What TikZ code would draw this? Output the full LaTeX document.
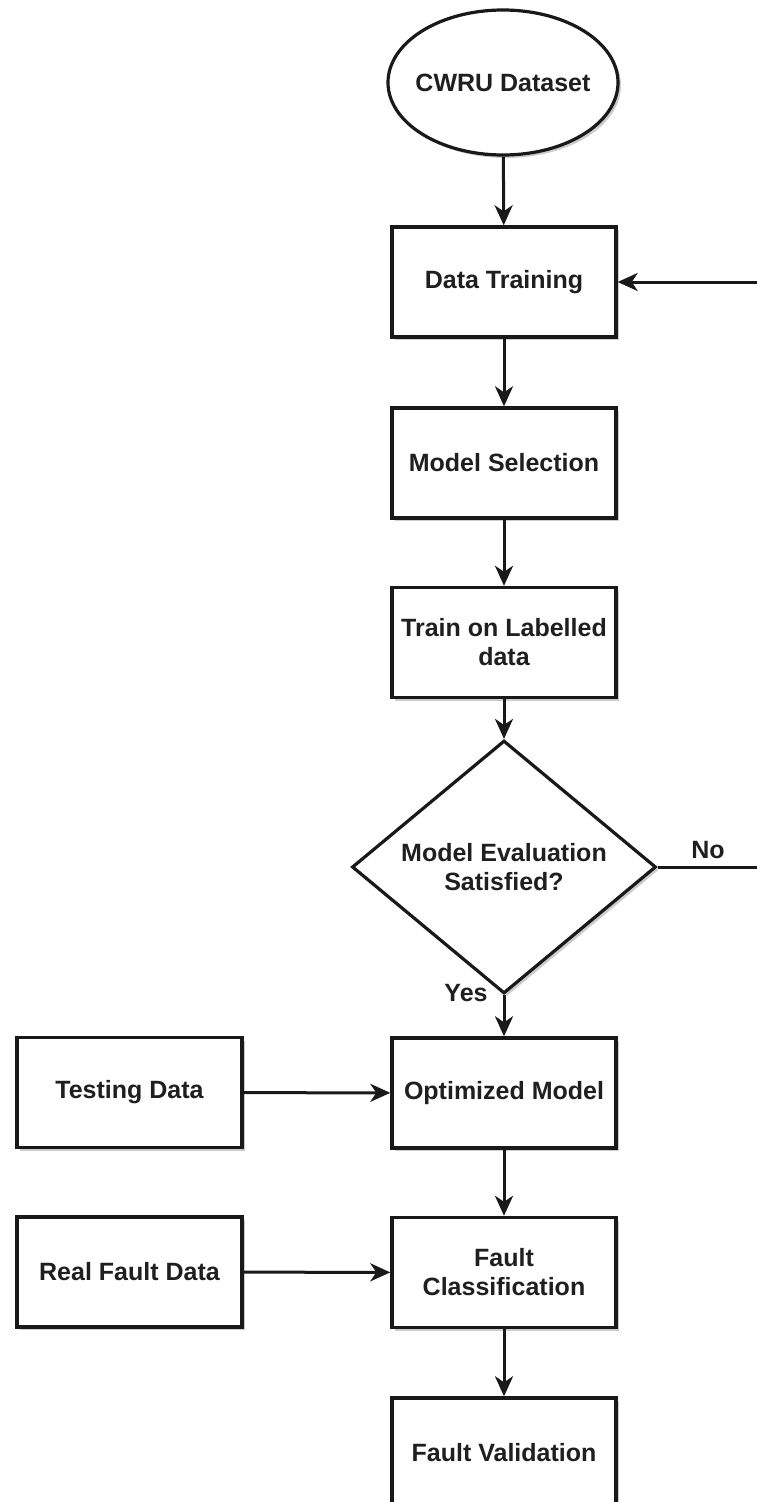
\documentclass[tikz,border=0pt]{standalone}
\usepackage{fontspec}
\setmainfont{Liberation Sans}
\usetikzlibrary{shapes.geometric,arrows.meta,shadows}
\begin{document}
\begin{tikzpicture}[x=1pt,y=-1pt,
  every node/.style={font=\fontsize{25}{29}\selectfont\bfseries, text=black!88},
  softshadow/.style={drop shadow={shadow xshift=3pt, shadow yshift=-3pt, fill=black, opacity=.2}},
  stepbox/.style={draw=black!90, line width=3.4pt, fill=white, minimum width=224pt,
    minimum height=110pt, inner sep=0pt, align=center, softshadow},
  startnode/.style={ellipse, draw=black!90, line width=3.2pt, fill=white,
    minimum width=230pt, minimum height=145pt, inner xsep=-20pt, inner ysep=0pt, softshadow},
  decision/.style={diamond, draw=black!90, line width=3.2pt, fill=white,
    minimum width=304pt, minimum height=198pt, inner sep=0pt, align=center, softshadow},
  flow/.style={draw=black!90, line width=3pt,
    -{Stealth[length=20pt, width=18pt, inset=6pt]}},
  tag/.style={inner sep=0pt}
]
\useasboundingbox (0,0) rectangle (757,1502);
\clip (0,0) rectangle (757,1502);

% main column
\node[startnode] (cwru)  at (503,82.5) {CWRU Dataset};
\node[stepbox]   (train) at (504,282)  {Data Training};
\node[stepbox]   (msel)  at (504,463)  {Model Selection};
\node[stepbox]   (label) at (504,642.5){Train on Labelled\\data};
\node[decision]  (eval)  at (504,867)  {Model Evaluation\\Satisfied?};
\node[stepbox]   (opt)   at (504,1093) {Optimized Model};
\node[stepbox]   (fcls)  at (504,1272.5){Fault\\Classification};
\node[stepbox]   (fval)  at (504,1453) {Fault Validation};

% side inputs
\node[stepbox, minimum width=225pt] (test) at (129.5,1092.5) {Testing Data};
\node[stepbox, minimum width=225pt] (real) at (129.5,1272)   {Real Fault Data};

% connectors
\draw[flow] (cwru)  -- (train);
\draw[flow] (train) -- (msel);
\draw[flow] (msel)  -- (label);
\draw[flow] (label) -- (eval);
\draw[flow] (eval)  -- (opt);
\draw[flow] (opt)   -- (fcls);
\draw[flow] (fcls)  -- (fval);
\draw[flow] (test)  -- (opt);
\draw[flow] (real)  -- (fcls);

% feedback loop when the evaluation fails
\coordinate (loop) at (790,867);
\draw[flow] (eval.east) -- (loop) |- (train.east);

% branch labels
\node[tag] (no)  at (708,850) {No};
\node[tag] (yes) at (466,993) {Yes};
\end{tikzpicture}
\end{document}
